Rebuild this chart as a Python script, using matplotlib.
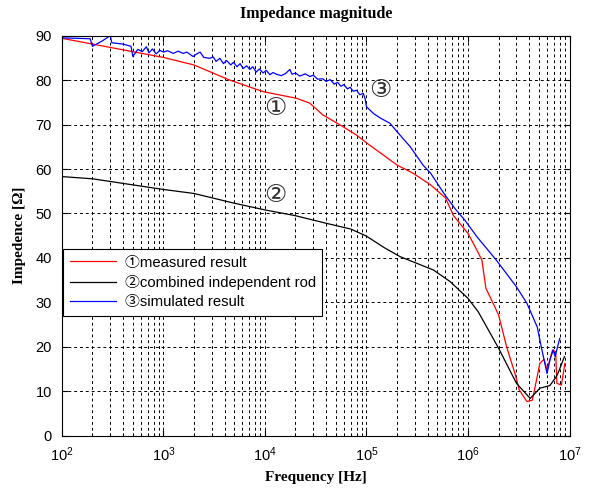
import matplotlib
matplotlib.use("Agg")
import matplotlib.pyplot as plt
from matplotlib.ticker import LogLocator, NullFormatter

# ---- data ----
red_f = [100, 200, 1e3, 2e3, 4.5e3, 9.6e3, 2.05e4, 2.77e4, 3.7e4, 5.5e4, 7.9e4,
         1.07e5, 2e5, 2.9e5, 4.3e5, 6e5, 7.2e5, 1e6, 1.22e6, 1.37e6, 1.5e6, 2e6,
         2.4e6, 2.9e6, 3.2e6, 3.8e6, 4.3e6, 4.8e6, 5.1e6, 5.6e6, 6e6, 6.8e6,
         7.3e6, 7.5e6, 8.3e6, 9e6]
red_v = [89.4, 88.1, 85.1, 83.4, 80.0, 77.4, 75.9, 74.8, 72.2, 69.9, 67.7,
         65.4, 60.9, 59.0, 56.4, 53.5, 49.5, 45.5, 41.8, 39.5, 33.2, 27.2,
         20.0, 14.0, 10.3, 7.7, 8.0, 13.3, 16.3, 17.2, 14.8, 19.3,
         18.9, 11.8, 11.4, 16.3]

black_f = [100, 200, 1e3, 2e3, 5e3, 1e4, 2e4, 4e4, 7e4, 1e5, 1.5e5, 2.14e5, 4.55e5,
           6.65e5, 1e6, 1.26e6, 2e6, 3e6, 4.1e6, 5.1e6, 6.4e6, 7.4e6, 7.8e6, 8.9e6]
black_v = [58.3, 57.8, 55.4, 54.5, 52.3, 50.8, 49.5, 47.8, 46.5, 44.9, 42.3, 40.3, 37.3,
           34.7, 30.9, 27.9, 19.7, 11.8, 8.4, 10.7, 11.3, 13.3, 14.4, 17.8]

blue_f = [100, 190, 200, 250, 300, 310, 400, 480, 500, 560, 620, 680, 720, 780,
          850, 920, 1000, 1100, 1250, 1400, 1570, 1700, 1960, 2100, 2300, 2500,
          2860, 3100, 3300, 3600, 3900, 4200, 4600, 4900, 5300, 5700, 6100, 6600,
          7100, 7600, 8200, 8800, 9600, 10300, 11200, 12000, 13000, 14500, 16000,
          17600, 18500, 20000, 22000, 25000, 27700, 30000, 33000, 37000, 40000,
          44000, 48000, 52000, 56000, 60000, 65000, 69000, 74000, 80000, 86000,
          93000, 97000, 1e5, 1.17e5, 1.36e5, 1.7e5, 2e5, 2.7e5, 3.6e5, 4.3e5,
          6e5, 7.5e5, 9.3e5, 1.22e6, 1.9e6, 3e6, 3.8e6, 4.8e6, 5.3e6, 6e6, 6.4e6,
          6.9e6, 7.2e6, 8e6]
blue_v = [89.5, 89.3, 87.6, 88.8, 90.0, 88.4, 88.1, 87.6, 85.3, 86.9, 86.4, 87.5,
          86.1, 87.0, 85.9, 86.7, 86.3, 86.6, 86.0, 86.5, 86.0, 86.3, 85.3, 85.8,
          86.3, 85.1, 84.9, 85.2, 84.2, 84.9, 83.7, 84.4, 83.4, 84.0, 83.0, 83.7,
          82.6, 83.2, 82.4, 83.0, 81.8, 82.5, 81.6, 82.2, 81.2, 81.7, 81.3, 81.0,
          81.5, 82.4, 81.3, 81.6, 80.9, 81.4, 80.8, 81.1, 80.2, 80.3, 79.7, 80.1,
          79.1, 79.5, 78.6, 79.0, 78.0, 78.4, 77.5, 77.7, 76.7, 77.0, 75.8, 74.0,
          72.5, 71.5, 70.3, 68.4, 65.0, 60.9, 59.0, 54.0, 51.0, 48.5, 44.8, 39.5,
          33.5, 29.8, 24.5, 19.7, 14.0, 17.0, 19.3, 17.8, 21.9]

legend_labels = ["\u2460measured result", "\u2461combined independent rod",
                 "\u2462simulated result"]
x_ticks = [1e2, 1e3, 1e4, 1e5, 1e6, 1e7]
y_ticks = list(range(0, 91, 10))

# ---- figure ----
fig = plt.figure(figsize=(5.89, 4.88), dpi=100)
ax = fig.add_axes([0.105, 0.107, 0.862, 0.820])

sans = ["Liberation Sans", "DejaVu Sans", "Noto Sans CJK JP"]
serif = ["Liberation Serif", "DejaVu Serif"]

l1, = ax.plot(red_f, red_v, color="#ff0000", lw=0.9)
l2, = ax.plot(black_f, black_v, color="black", lw=0.9)
l3, = ax.plot(blue_f, blue_v, color="#0000ff", lw=0.9)

ax.set_xscale("log")
ax.set_xlim(1e2, 1e7)
ax.set_ylim(0, 90)
ax.set_xticks(x_ticks)
ax.xaxis.set_minor_locator(LogLocator(base=10, subs=range(2, 10), numticks=50))
ax.xaxis.set_minor_formatter(NullFormatter())
ax.set_yticks(y_ticks)

grid_kw = dict(color="black", linestyle=(0, (3, 3)), linewidth=0.7)
ax.grid(True, which="major", axis="both", **grid_kw)
ax.grid(True, which="minor", axis="x", **grid_kw)
ax.tick_params(which="both", direction="in", top=True, right=True, labelsize=10.5)
ax.tick_params(which="major", length=4)
ax.tick_params(which="minor", length=2)
ax.tick_params(axis="y", which="major", pad=7)
ax.tick_params(axis="x", which="major", pad=7)
for lab in ax.get_xticklabels() + ax.get_yticklabels():
    lab.set_fontfamily(sans)
for sp in ax.spines.values():
    sp.set_linewidth(0.8)

ax.set_title("Impedance magnitude", fontfamily=serif, fontweight="bold",
             fontsize=11.5, pad=13)
ax.set_xlabel("Frequency [Hz]", fontfamily=serif, fontweight="bold", fontsize=11,
              labelpad=5)
ax.set_ylabel("Impedence [\u03a9]", fontfamily=serif, fontweight="bold", fontsize=11,
              labelpad=7)

ann_font = ["DejaVu Sans", "Noto Sans CJK JP"]
for fx, fy, s in [(1.26e4, 73.7, "\u2460"), (1.26e4, 54.1, "\u2461"),
                  (1.38e5, 77.8, "\u2462")]:
    ax.text(fx, fy, s, fontsize=18, ha="center", va="center",
            family=ann_font, color="#333333")

leg = ax.legend([l1, l2, l3], legend_labels, loc="upper left",
                bbox_to_anchor=(0.002, 0.467), borderaxespad=0.0,
                frameon=True, fancybox=False,
                edgecolor="black", framealpha=1, handlelength=3.1,
                borderpad=0.45, labelspacing=0.35, handletextpad=0.6,
                prop={"family": ["Liberation Sans", "Noto Sans CJK JP"], "size": 10.7})
leg.get_frame().set_linewidth(0.8)

fig.savefig("out.png", dpi=100)
